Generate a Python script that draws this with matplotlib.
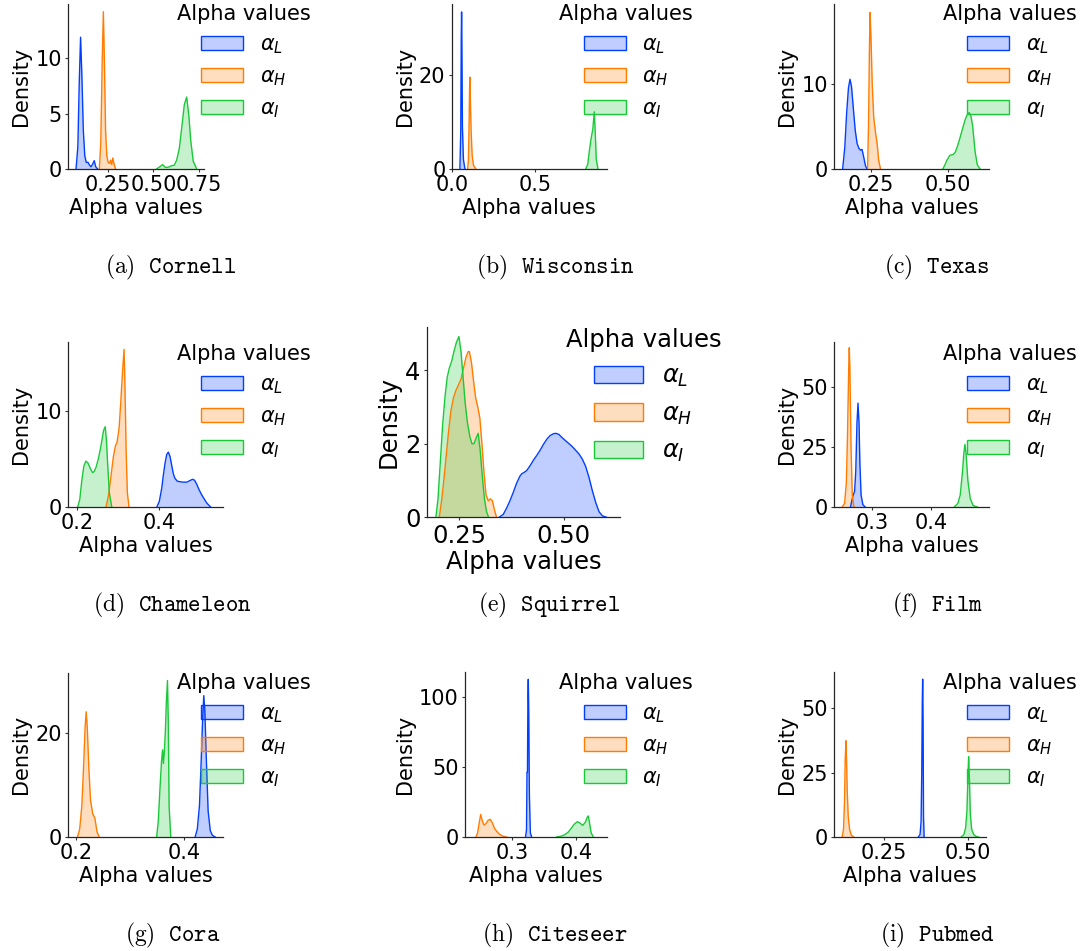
import matplotlib
matplotlib.use("Agg")
import matplotlib.pyplot as plt
from matplotlib.patches import Patch

W, H = 1090, 951

# colours (seaborn "bright")
COLORS = {"L": "#023eff", "H": "#ff7c00", "I": "#1ac938"}
SERIES = ["L", "H", "I"]

# ---- density curves: [x values], [density] ----
cornell_L = [[0.076, 0.086, 0.094, 0.101, 0.108, 0.116, 0.124, 0.132, 0.142, 0.150, 0.158, 0.166, 0.176, 0.184, 0.195],
             [0, 2.0, 8.0, 11.9, 8.5, 3.5, 1.2, 0.6, 0.6, 0.35, 0.2, 0.4, 0.75, 0.2, 0]]
cornell_H = [[0.204, 0.212, 0.220, 0.226, 0.232, 0.238, 0.245, 0.252, 0.260, 0.266, 0.272, 0.278, 0.284, 0.293],
             [0, 2.5, 10.0, 14.2, 9.5, 3.5, 1.2, 0.6, 0.5, 0.8, 0.4, 1.0, 0.5, 0]]
cornell_I = [[0.518, 0.535, 0.551, 0.565, 0.580, 0.601, 0.615, 0.628, 0.642, 0.655, 0.670, 0.683, 0.695, 0.705, 0.719, 0.738],
             [0, 0.2, 0.4, 0.15, 0.15, 0.3, 0.35, 0.8, 1.8, 3.6, 5.8, 6.5, 4.8, 2.6, 0.7, 0]]

wisconsin_L = [[0.049, 0.054, 0.057, 0.059, 0.061, 0.064, 0.070, 0.079],
               [0, 8, 28, 33.5, 26, 9, 2, 0]]
wisconsin_H = [[0.095, 0.100, 0.104, 0.107, 0.109, 0.112, 0.116, 0.122, 0.130, 0.144],
               [0, 2, 10, 18, 19.6, 14, 8, 3, 0.8, 0]]
wisconsin_I = [[0.800, 0.812, 0.822, 0.832, 0.842, 0.851, 0.857, 0.863, 0.873],
               [0, 1.0, 4.0, 6.5, 8.5, 12.2, 7.5, 2.0, 0]]

texas_L = [[0.159, 0.166, 0.172, 0.178, 0.183, 0.188, 0.194, 0.200, 0.206, 0.212, 0.217, 0.222, 0.228, 0.233, 0.238],
           [0, 2.5, 6.5, 9.5, 10.5, 9.6, 7.0, 4.5, 3.0, 2.4, 2.2, 2.3, 1.3, 0.4, 0]]
texas_H = [[0.240, 0.243, 0.246, 0.248, 0.251, 0.255, 0.260, 0.266, 0.271, 0.276, 0.282],
           [0, 5, 14, 18.3, 15.5, 10.0, 6.0, 4.2, 3.0, 1.0, 0]]
texas_I = [[0.484, 0.490, 0.497, 0.507, 0.518, 0.525, 0.531, 0.538, 0.545, 0.552, 0.558, 0.564, 0.570, 0.576, 0.581, 0.585, 0.589, 0.596, 0.605],
           [0, 0.4, 1.0, 1.6, 1.7, 2.0, 2.6, 3.4, 4.3, 5.2, 5.9, 6.4, 6.6, 6.1, 5.0, 3.5, 2.0, 0.5, 0]]

chameleon_L = [[0.394, 0.400, 0.406, 0.410, 0.414, 0.418, 0.422, 0.426, 0.430, 0.434, 0.438, 0.444, 0.450, 0.458, 0.467, 0.474, 0.481, 0.486, 0.491, 0.497, 0.503, 0.510, 0.516, 0.525],
               [0, 0.6, 2.0, 3.4, 4.6, 5.5, 5.74, 5.3, 4.4, 3.5, 3.0, 2.7, 2.65, 2.6, 2.6, 2.75, 2.9, 2.8, 2.4, 1.8, 1.3, 0.8, 0.4, 0]]
chameleon_H = [[0.270, 0.276, 0.282, 0.288, 0.293, 0.297, 0.302, 0.306, 0.310, 0.314, 0.316, 0.319, 0.322, 0.326],
               [0, 1.2, 3.2, 5.3, 6.4, 6.8, 8.3, 11.0, 14.0, 16.5, 13.0, 6.0, 1.5, 0]]
chameleon_I = [[0.201, 0.206, 0.211, 0.216, 0.221, 0.226, 0.232, 0.237, 0.241, 0.246, 0.251, 0.256, 0.260, 0.264, 0.268, 0.271, 0.274, 0.278, 0.284],
               [0, 0.8, 2.8, 4.3, 4.8, 4.6, 4.0, 3.6, 3.7, 4.2, 5.0, 6.0, 7.0, 8.0, 8.4, 7.0, 4.5, 1.5, 0]]

squirrel_L = [[0.345, 0.355, 0.363, 0.371, 0.379, 0.387, 0.395, 0.399, 0.405, 0.411, 0.419, 0.427, 0.435, 0.443, 0.451, 0.459, 0.467, 0.475, 0.481, 0.488, 0.496, 0.504, 0.512, 0.520, 0.528, 0.536, 0.544, 0.552, 0.560, 0.568, 0.576, 0.584, 0.592, 0.602],
              [0, 0.08, 0.25, 0.45, 0.68, 0.93, 1.12, 1.18, 1.22, 1.27, 1.4, 1.55, 1.68, 1.82, 1.98, 2.12, 2.22, 2.27, 2.28, 2.25, 2.16, 2.08, 2.0, 1.92, 1.82, 1.72, 1.58, 1.38, 1.08, 0.72, 0.4, 0.15, 0.04, 0]]
squirrel_H = [[0.202, 0.207, 0.212, 0.218, 0.224, 0.230, 0.236, 0.242, 0.248, 0.254, 0.260, 0.266, 0.271, 0.274, 0.279, 0.284, 0.289, 0.294, 0.299, 0.304, 0.309, 0.314, 0.319, 0.324, 0.329, 0.334, 0.339],
              [0, 0.4, 0.9, 1.6, 2.3, 2.9, 3.25, 3.45, 3.6, 3.75, 4.05, 4.35, 4.5, 4.5, 4.2, 3.7, 3.25, 3.0, 2.7, 2.0, 1.2, 0.6, 0.45, 0.5, 0.45, 0.2, 0]]
squirrel_I = [[0.194, 0.199, 0.204, 0.210, 0.216, 0.221, 0.226, 0.232, 0.237, 0.243, 0.249, 0.254, 0.259, 0.264, 0.269, 0.275, 0.280, 0.285, 0.290, 0.295, 0.300, 0.305, 0.310, 0.315, 0.320],
              [0, 0.5, 1.4, 2.5, 3.3, 3.8, 4.05, 4.25, 4.5, 4.75, 4.91, 4.5, 3.8, 3.1, 2.6, 2.2, 2.0, 2.0, 2.15, 2.28, 1.8, 1.1, 0.5, 0.15, 0]]

film_L = [[0.264, 0.268, 0.271, 0.273, 0.275, 0.2768, 0.2785, 0.280, 0.282, 0.285, 0.289],
          [0, 4.5, 6.5, 15, 35, 43.3, 35, 18, 5, 1, 0]]
film_H = [[0.250, 0.254, 0.257, 0.259, 0.261, 0.262, 0.263, 0.265, 0.267, 0.270],
          [0, 1.5, 10, 30, 58, 66.4, 58, 25, 5, 0]]
film_I = [[0.440, 0.446, 0.450, 0.454, 0.456, 0.458, 0.460, 0.463, 0.467, 0.472, 0.479],
          [0, 1.5, 5, 15, 22, 26.1, 22, 11, 3.5, 0.6, 0]]

cora_L = [[0.420, 0.424, 0.428, 0.431, 0.434, 0.436, 0.438, 0.441, 0.444, 0.448, 0.452, 0.457],
          [0, 1.5, 6, 14, 23, 27.1, 24, 14, 5, 1.2, 0.3, 0]]
cora_H = [[0.203, 0.207, 0.211, 0.214, 0.217, 0.219, 0.221, 0.224, 0.227, 0.231, 0.235, 0.239, 0.243],
          [0, 1.5, 6, 13, 21, 24.0, 21, 13, 7, 4.5, 3.6, 1.0, 0]]
cora_I = [[0.349, 0.352, 0.355, 0.358, 0.360, 0.3615, 0.363, 0.365, 0.367, 0.369, 0.3705, 0.372, 0.375],
          [0, 3, 9, 14.5, 16.7, 14.1, 16, 20, 26, 30.0, 22, 6, 0]]

citeseer_L = [[0.3215, 0.323, 0.3238, 0.3245, 0.3252, 0.3258, 0.3265, 0.3275, 0.3290, 0.3310],
              [0, 5, 46, 46, 100, 112.3, 90, 30, 3, 0]]
citeseer_H = [[0.2445, 0.247, 0.2495, 0.2518, 0.254, 0.2569, 0.260, 0.2635, 0.2667, 0.270, 0.2735, 0.2767, 0.281, 0.286, 0.2922],
              [0, 3, 10, 16.1, 12, 8.5, 9.5, 12, 12.6, 10, 6, 4, 2, 0.6, 0]]
citeseer_I = [[0.370, 0.376, 0.382, 0.388, 0.393, 0.397, 0.402, 0.406, 0.4104, 0.4145, 0.4175, 0.4191, 0.421, 0.4235, 0.4269],
              [0, 0.5, 1.5, 3.5, 6.5, 9.0, 10.9, 10.0, 8.2, 10.5, 14.0, 15.0, 10.0, 3.0, 0]]

pubmed_L = [[0.352, 0.357, 0.360, 0.362, 0.3635, 0.3647, 0.3660, 0.3672, 0.369],
            [0, 1, 6, 25, 52, 61.3, 45, 8, 0]]
pubmed_H = [[0.126, 0.130, 0.133, 0.135, 0.1373, 0.139, 0.141, 0.144, 0.148, 0.153, 0.160],
            [0, 3, 14, 30, 37.4, 30, 18, 8, 3, 0.8, 0]]
pubmed_I = [[0.479, 0.487, 0.492, 0.496, 0.499, 0.501, 0.503, 0.506, 0.510, 0.516, 0.522, 0.530],
            [0, 1.0, 3.5, 10, 24, 31.2, 24, 9, 3.0, 1.0, 0.3, 0]]

legend_labels = [r"$\alpha_L$", r"$\alpha_H$", r"$\alpha_I$"]

# panel layout: caption, curves, axes box in pixels (x0, y0, x1, y1), xlim, ylim,
# xticks, xticklabels, yticks, legend (centre x, top), caption (centre x, baseline), font size
panels = [
    ("(a)", "Cornell", (cornell_L, cornell_H, cornell_I), (68, 4, 204, 169), (0.032, 0.778), 14.9,
     [0.25, 0.5, 0.75], ["0.25", "0.50", "0.75"], [0, 5, 10], (243.7, 4), (171, 273), 15),
    ("(b)", "Wisconsin", (wisconsin_L, wisconsin_H, wisconsin_I), (451.7, 4, 606.7, 169), (0.006, 0.925), 35.2,
     [0.0, 0.5], ["0.0", "0.5"], [0, 20], (626.3, 4), (555, 273), 15),
    ("(c)", "Texas", (texas_L, texas_H, texas_I), (834.3, 4, 989.3, 169), (0.132, 0.635), 19.3,
     [0.25, 0.5], ["0.25", "0.50"], [0, 10], (1009.7, 4), (936.7, 273), 15),
    ("(d)", "Chameleon", (chameleon_L, chameleon_H, chameleon_I), (68.3, 341.7, 223.3, 507), (0.178, 0.556), 17.3,
     [0.2, 0.4], ["0.2", "0.4"], [0, 10], (243.7, 344), (172.2, 611), 15),
    ("(e)", "Squirrel", (squirrel_L, squirrel_H, squirrel_I), (426.7, 327.3, 620, 517.3), (0.172, 0.634), 5.16,
     [0.25, 0.5], ["0.25", "0.50"], [0, 2, 4], (643.5, 328), (549.2, 611), 17.5),
    ("(f)", "Film", (film_L, film_H, film_I), (834.3, 341.7, 989.3, 507), (0.2366, 0.4993), 68.9,
     [0.3, 0.4], ["0.3", "0.4"], [0, 25, 50], (1009.7, 344), (937.5, 611), 15),
    ("(g)", "Cora", (cora_L, cora_H, cora_I), (68.3, 672.7, 223.3, 837), (0.186, 0.472), 31.5,
     [0.2, 0.4], ["0.2", "0.4"], [0, 20], (243.7, 673), (172.5, 941), 15),
    ("(h)", "Citeseer", (citeseer_L, citeseer_H, citeseer_I), (465, 671.7, 606.7, 837), (0.2274, 0.4477), 117.7,
     [0.3, 0.4], ["0.3", "0.4"], [0, 50, 100], (626.3, 673), (554.5, 941), 15),
    ("(i)", "Pubmed", (pubmed_L, pubmed_H, pubmed_I), (834.3, 671.7, 985.7, 837), (0.1027, 0.5516), 64.2,
     [0.25, 0.5], ["0.25", "0.50"], [0, 25, 50], (1009.7, 673), (937.2, 941), 15),
]

fig = plt.figure(figsize=(W / 100, H / 100), dpi=100)

for (tag, name, curves, box, xlim, ymax, xt, xtl, yt, leg, cap, fs) in panels:
    x0, y0, x1, y1 = box
    ax = fig.add_axes([x0 / W, 1 - y1 / H, (x1 - x0) / W, (y1 - y0) / H])
    for key, (xs, ys) in zip(SERIES, curves):
        c = COLORS[key]
        ax.fill_between(xs, ys, color=c, alpha=0.25, linewidth=0)
        ax.plot(xs, ys, color=c, lw=1.0)
    ax.set_xlim(*xlim)
    ax.set_ylim(0, ymax)
    ax.set_xticks(xt)
    ax.set_xticklabels(xtl)
    ax.set_yticks(yt)
    ax.tick_params(labelsize=fs, length=2, width=0.8, color="0.2", pad=2.5)
    ax.set_xlabel("Alpha values", fontsize=fs, labelpad=2)
    ax.set_ylabel("Density", fontsize=fs, labelpad=3)
    for s in ("top", "right"):
        ax.spines[s].set_visible(False)
    for s in ("left", "bottom"):
        ax.spines[s].set_color("0.15")
        ax.spines[s].set_linewidth(0.9)

    handles = [Patch(facecolor=matplotlib.colors.to_rgba(COLORS[k], 0.25),
                     edgecolor=COLORS[k], linewidth=1.0) for k in SERIES]
    ax.legend(handles, legend_labels, title="Alpha values", frameon=False,
              fontsize=fs, title_fontsize=fs, loc="upper center",
              bbox_to_anchor=(leg[0] / W, 1 - leg[1] / H),
              bbox_transform=fig.transFigure, borderpad=0, borderaxespad=0,
              labelspacing=0.5)

    fig.text(cap[0] / W, 1 - cap[1] / H, r"$\mathrm{%s}\ \ \mathtt{%s}$" % (tag, name),
             ha="center", va="baseline", fontsize=17, math_fontfamily="cm")

fig.savefig("out.png", dpi=100)
